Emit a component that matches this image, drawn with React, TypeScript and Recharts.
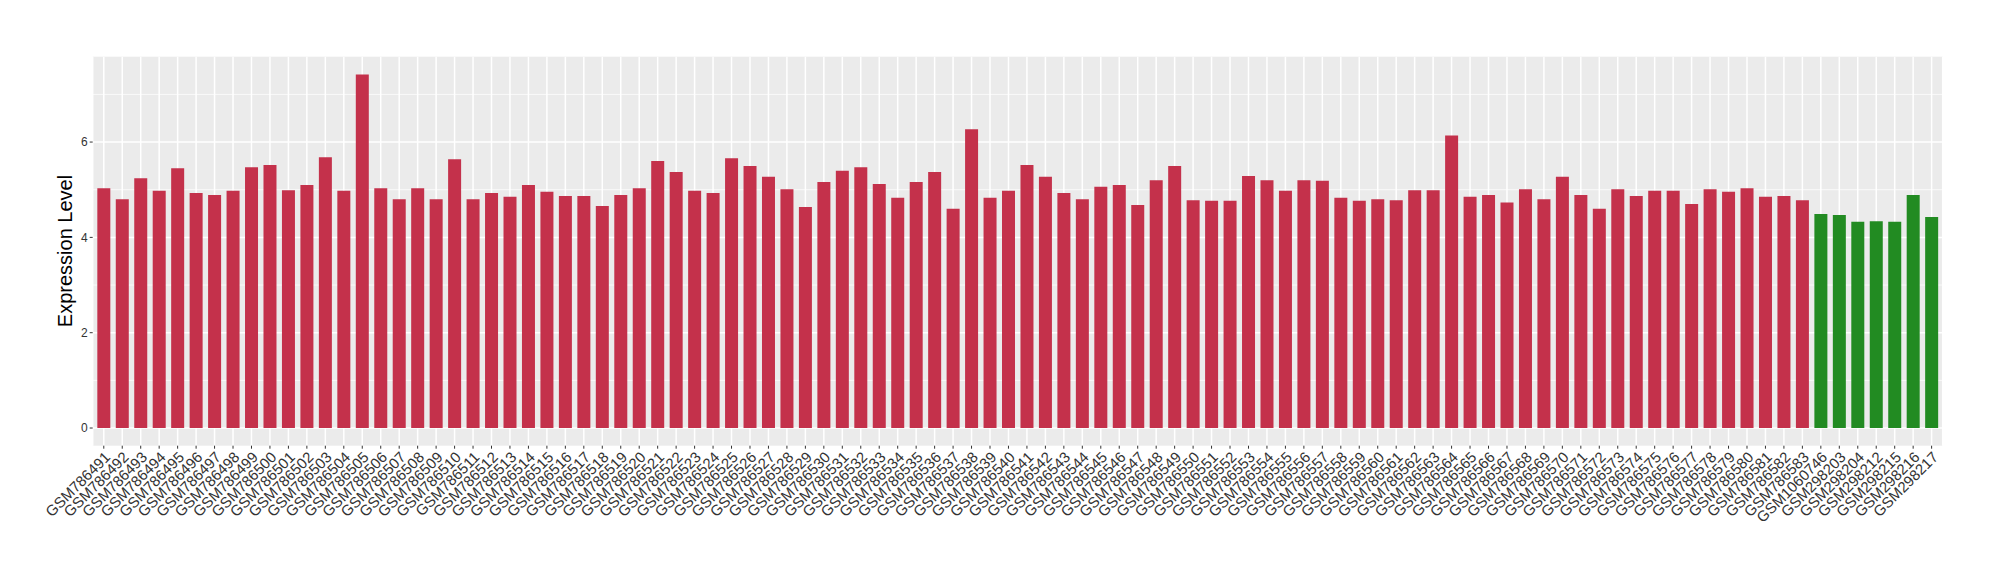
import React from 'react';
import { BarChart, Bar, XAxis, YAxis, CartesianGrid, Cell } from 'recharts';

const samples: string[] = [
  'GSM786491','GSM786492','GSM786493','GSM786494','GSM786495','GSM786496','GSM786497','GSM786498','GSM786499','GSM786500',
  'GSM786501','GSM786502','GSM786503','GSM786504','GSM786505','GSM786506','GSM786507','GSM786508','GSM786509','GSM786510',
  'GSM786511','GSM786512','GSM786513','GSM786514','GSM786515','GSM786516','GSM786517','GSM786518','GSM786519','GSM786520',
  'GSM786521','GSM786522','GSM786523','GSM786524','GSM786525','GSM786526','GSM786527','GSM786528','GSM786529','GSM786530',
  'GSM786531','GSM786532','GSM786533','GSM786534','GSM786535','GSM786536','GSM786537','GSM786538','GSM786539','GSM786540',
  'GSM786541','GSM786542','GSM786543','GSM786544','GSM786545','GSM786546','GSM786547','GSM786548','GSM786549','GSM786550',
  'GSM786551','GSM786552','GSM786553','GSM786554','GSM786555','GSM786556','GSM786557','GSM786558','GSM786559','GSM786560',
  'GSM786561','GSM786562','GSM786563','GSM786564','GSM786565','GSM786566','GSM786567','GSM786568','GSM786569','GSM786570',
  'GSM786571','GSM786572','GSM786573','GSM786574','GSM786575','GSM786576','GSM786577','GSM786578','GSM786579','GSM786580',
  'GSM786581','GSM786582','GSM786583',
  'GSM1060746','GSM298203','GSM298204','GSM298212','GSM298215','GSM298216','GSM298217',
];

const expression: number[] = [
  5.03, 4.80, 5.24, 4.98, 5.45, 4.93, 4.89, 4.98, 5.47, 5.52,
  4.99, 5.10, 5.68, 4.98, 7.42, 5.03, 4.80, 5.03, 4.80, 5.64,
  4.80, 4.93, 4.85, 5.10, 4.96, 4.87, 4.87, 4.66, 4.89, 5.03,
  5.60, 5.37, 4.98, 4.93, 5.66, 5.50, 5.27, 5.01, 4.64, 5.16,
  5.40, 5.47, 5.12, 4.83, 5.16, 5.37, 4.60, 6.27, 4.83, 4.98,
  5.52, 5.27, 4.93, 4.80, 5.06, 5.10, 4.68, 5.20, 5.50, 4.78,
  4.77, 4.77, 5.29, 5.20, 4.98, 5.20, 5.19, 4.83, 4.77, 4.80,
  4.78, 4.99, 4.99, 6.14, 4.85, 4.89, 4.73, 5.01, 4.80, 5.27,
  4.89, 4.60, 5.01, 4.87, 4.98, 4.98, 4.70, 5.01, 4.96, 5.03,
  4.85, 4.87, 4.78,
  4.49, 4.47, 4.33, 4.34, 4.33, 4.89, 4.43,
];

const groups: string[] = [
  ...Array(93).fill('case'),
  ...Array(7).fill('control'),
];

const groupColors: Record<string, string> = { case: '#C4314B', control: '#228B22' };

const yTicks: number[] = [0, 2, 4, 6];
const yMinor: number[] = [1, 3, 5, 7];
const yDomain: [number, number] = [-0.371, 7.791];

const data = samples.map((s, i) => ({ sample: s, value: expression[i], group: groups[i] }));

const FONT = '"Liberation Sans", Arial, Helvetica, sans-serif';

const XTick = (props: any) => {
  const { x, y, payload } = props;
  return (
    <g transform={`translate(${x},${y})`}>
      <text
        transform="rotate(-45)"
        textAnchor="end"
        dy="0.7em"
        fontSize={15}
        fill="#333"
        fontFamily={FONT}
      >
        {payload.value}
      </text>
    </g>
  );
};

export default function App() {
  return (
    <div style={{ position: 'relative', width: 1984, height: 564, fontFamily: FONT }}>
      <BarChart
        width={1984}
        height={564}
        data={data}
        margin={{ top: 48.7, right: 49.3, bottom: 6.3, left: 24.7 }}
        barCategoryGap="15%"
      >
        <CartesianGrid
          fill="#EBEBEB"
          stroke="#FFFFFF"
          strokeWidth={0.75}
          vertical={false}
          horizontalValues={yMinor}
        />
        <CartesianGrid
          stroke="#FFFFFF"
          strokeWidth={1.5}
          horizontalValues={yTicks}
        />
        <XAxis
          dataKey="sample"
          interval={0}
          padding={{ left: 1.85, right: 1.85 }}
          axisLine={false}
          tickLine={{ stroke: '#333', strokeWidth: 1 }}
          tickSize={3}
          tickMargin={2}
          height={120}
          tick={<XTick />}
        />
        <YAxis
          type="number"
          domain={yDomain}
          ticks={yTicks}
          allowDataOverflow
          axisLine={false}
          tickLine={{ stroke: '#333', strokeWidth: 1 }}
          tickSize={3}
          tickMargin={2}
          width={60}
          tick={{ fontSize: 12, fill: '#333', fontFamily: FONT }}
        />
        <Bar dataKey="value" isAnimationActive={false}>
          {data.map((d, i) => (
            <Cell key={i} fill={groupColors[d.group]} />
          ))}
        </Bar>
      </BarChart>
      <div
        style={{
          position: 'absolute',
          left: 56.5,
          top: 242.8,
          transform: 'translate(-50%, -50%) rotate(-90deg)',
          fontSize: 20,
          lineHeight: 1,
          whiteSpace: 'nowrap',
          color: '#000',
        }}
      >
        Expression Level
      </div>
    </div>
  );
}
